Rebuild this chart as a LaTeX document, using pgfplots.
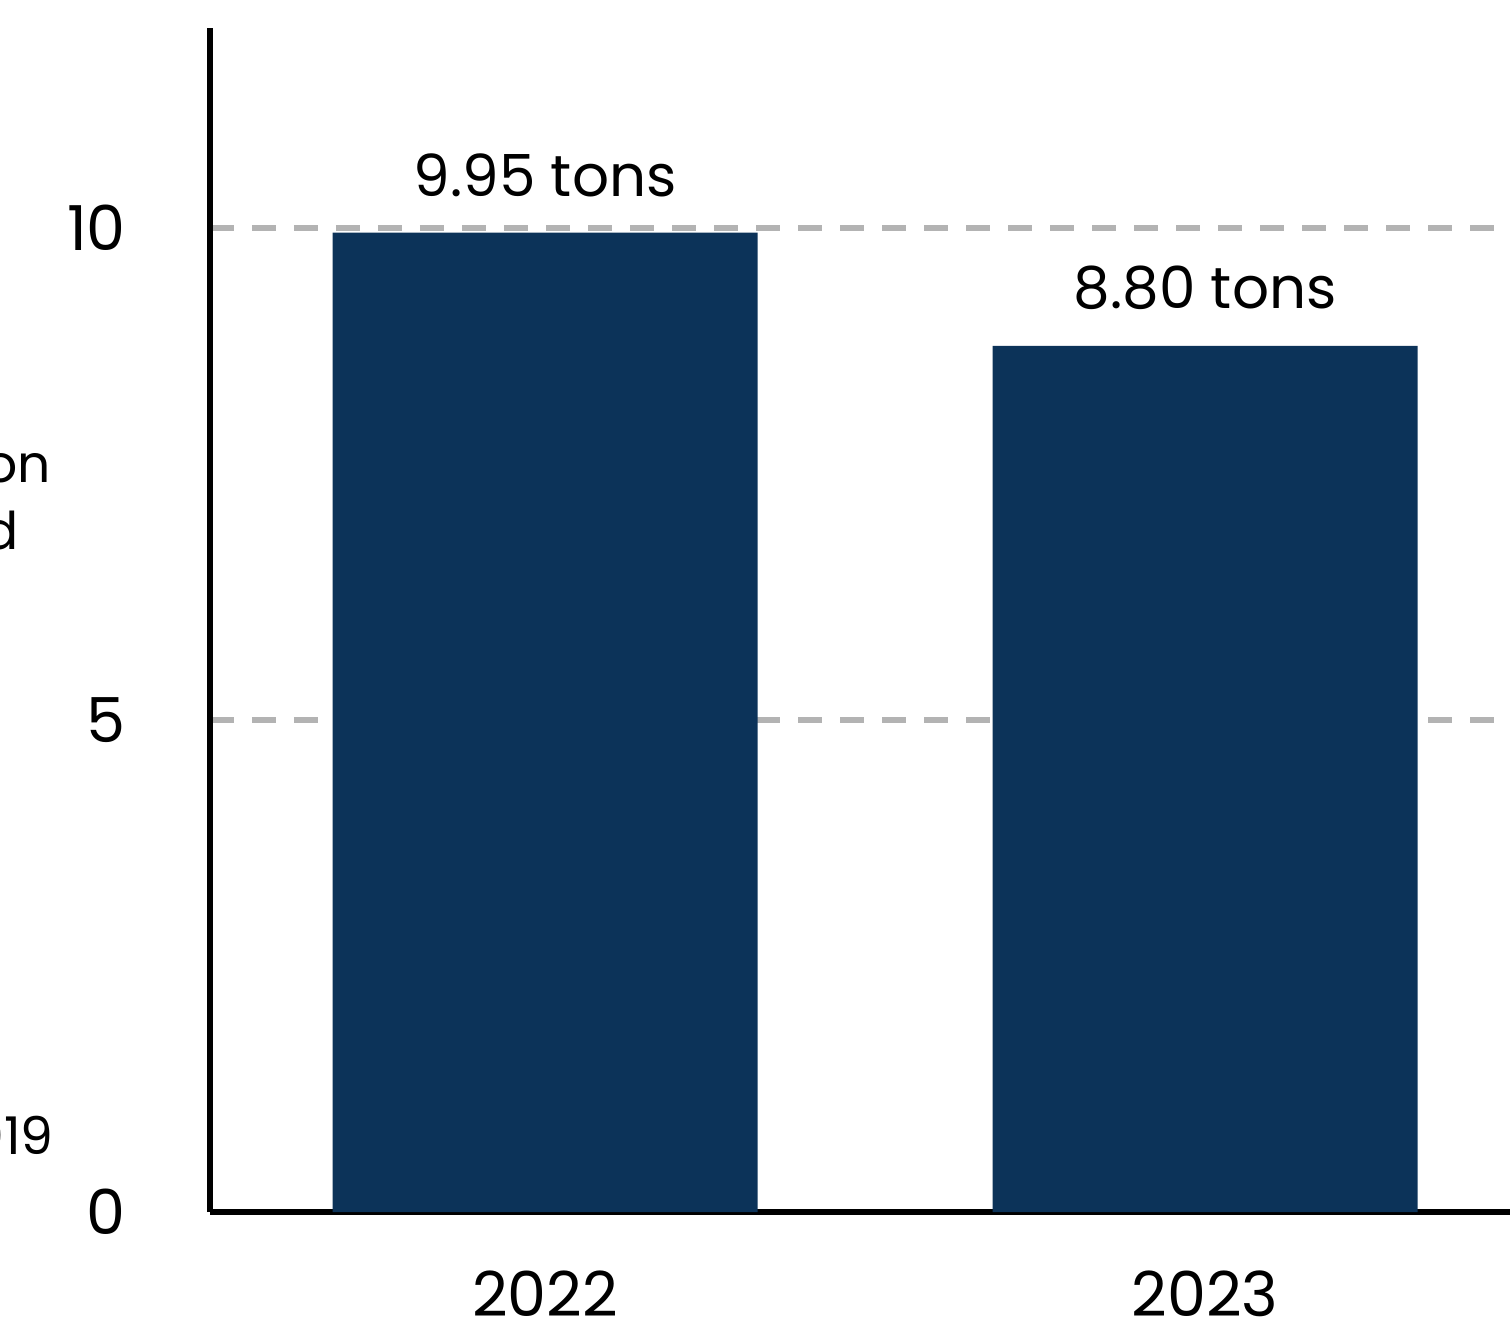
\documentclass[border=0pt]{standalone}
\usepackage{pgfplots}
\pgfplotsset{compat=1.18}
\usepackage{fontspec}
\setmainfont{Poppins}
\definecolor{barblue}{HTML}{0C3359}
\definecolor{gridgray}{HTML}{B3B3B3}
\begin{document}
\begin{tikzpicture}
\begin{axis}[
  scale only axis,
  width=325pt, height=296pt,
  xmin=-0.508, xmax=1.462,
  ymin=0, ymax=12.03,
  axis x line*=bottom, axis y line*=left,
  axis line style={line width=1.5pt,-},
  xtick={0,1}, xticklabels={2022,2023},
  ytick={0,5,10},
  major tick length=0pt,
  tick style={draw=none},
  ymajorgrids,
  grid style={gridgray, line width=1.5pt, dash pattern=on 6pt off 4.5pt},
  ticklabel style={font=\fontsize{15.5}{18}\selectfont},
  /pgf/number format/assume math mode=true,
  yticklabel style={xshift=-17.5pt},
  xticklabel style={inner sep=0.5pt, yshift=-14pt},
  clip=false,
  execute at end axis={
    \coordinate (sw) at (rel axis cs:0,0);
    \coordinate (ne) at (rel axis cs:1,1);
  },
]
\addplot[ybar, bar width=106.25pt, fill=barblue, draw=none,
  nodes near coords={\pgfmathprintnumber[fixed,fixed zerofill,precision=2]{\pgfplotspointmeta}~tons},
  every node near coord/.append style={font=\fontsize{14.5}{17}\selectfont, black, yshift=5.5pt},
  point meta=y]
  coordinates {(0,9.95) (1,8.80)};
\node[anchor=base east, inner sep=0pt, font=\fontsize{13}{15}\selectfont] at (axis cs:-0.748,7.41) {on};
\node[anchor=base east, inner sep=0pt, font=\fontsize{13}{15}\selectfont] at (axis cs:-0.797,6.73) {d};
\node[anchor=base east, inner sep=0pt, font=\fontsize{13}{15}\selectfont] at (axis cs:-0.744,0.58) {019};
\end{axis}
\pgfresetboundingbox
\useasboundingbox ([xshift=-52.5pt,yshift=-29pt]sw) rectangle ([yshift=7pt]ne);
\end{tikzpicture}
\end{document}
